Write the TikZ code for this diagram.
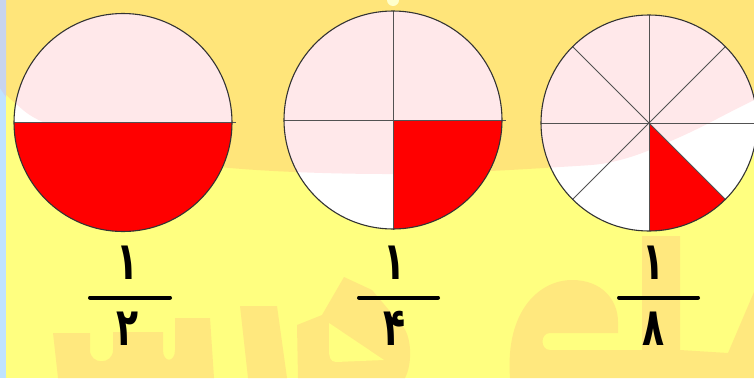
\documentclass[tikz,border=0pt]{standalone}
\usepackage{graphicx}
\usepackage{fontspec}
\newfontfamily\fa[Script=Arabic]{DejaVu Sans}
\usetikzlibrary{calc}
\newcommand{\dg}[1]{\scalebox{0.82}[1.2]{\fa\bfseries\fontsize{44}{44}\selectfont #1}}
\begin{document}
\begin{tikzpicture}[x=1pt,y=-1pt]
\definecolor{yel}{HTML}{FFFF80}
\definecolor{org}{HTML}{FFE57A}
\definecolor{wm}{HTML}{FFE87E}
\definecolor{pinkf}{HTML}{FFE8EA}
\definecolor{bluestrip}{HTML}{BFE3FF}
\definecolor{graystrip}{HTML}{C8D4EE}
\definecolor{outl}{HTML}{333333}
\tikzset{
  rim/.style={draw=outl,line width=1.1pt},
  divline/.style={draw=outl!85!white,line width=0.9pt},
  fracbar/.style={line width=4pt,line cap=round},
  digit/.style={inner sep=0pt,anchor=base},
  wmark/.style={fill=wm}
}
\useasboundingbox (0,0) rectangle (754,378);
\clip (0,0) rectangle (754,378);
% background
\fill[yel] (0,0) rectangle (754,378);
\fill[org] (0,0) -- plot[smooth,tension=0.6] coordinates {(0,88) (15,103) (43,122) (120,150) (230,168) (395,174) (560,167) (620,160) (680,137) (740,107) (754,100)} -- (754,0) -- cycle;
\fill[yel!40!white] (393,0) circle (6);
% watermark shapes
\fill[wmark] (53,333) -- (90,333) -- (90,350) .. controls (90,365) and (113,365) .. (113,350) -- (113,332) -- (163,332) -- (163,350) .. controls (163,363) and (175,363) .. (175,350) -- (175,318) -- (210,318) -- (214,378) -- (58,378) -- cycle;
\fill[wmark] (240,306) -- (277,306) -- (287,378) -- (248,378) -- cycle;
\fill[wmark] (297,325) -- (322,315) -- (344,277) -- (372,290) -- (404,328) .. controls (412,340) and (412,365) .. (405,378) -- (298,378) -- cycle;
\fill[yel] (329,323) -- (384,360) -- (336,362) .. controls (330,362) and (329,356) .. (329,350) -- cycle;
\fill[wmark] (510,378) .. controls (505,310) and (540,280) .. (572,280) .. controls (602,280) and (618,300) .. (618,322) -- (618,333) -- (550,333) .. controls (540,333) and (540,350) .. (550,350) -- (642,350) -- (642,378) -- cycle;
\fill[wmark] (642,236) -- (680,236) -- (680,350) -- (728,353) -- (754,292) -- (754,378) -- (642,378) -- cycle;
% left strip
\fill[bluestrip] (0,0) rectangle (6,378);
\fill[graystrip] (0,0) -- (0,88) -- (6,97) -- (6,0) -- cycle;
% circle 1
\coordinate (c1) at (123,122.5);
\fill[white] (c1) circle (109);
\begin{scope}
  \clip (c1) circle (109);
  \fill[pinkf] (0,0) -- plot[smooth,tension=0.6] coordinates {(0,88) (15,103) (43,122) (120,150) (230,168) (395,174) (560,167) (620,160) (680,137) (740,107) (754,100)} -- (754,0) -- cycle;
\end{scope}
\fill[red] ($(c1)+(109,0)$) arc[start angle=0,end angle=180,radius=109] -- cycle;
\draw[divline] ($(c1)+(-109,0)$) -- ($(c1)+(113,0)$);
\draw[rim] (c1) circle (109);
% circle 2
\coordinate (c2) at (393,120);
\fill[white] (c2) circle (109);
\begin{scope}
  \clip (c2) circle (109);
  \fill[pinkf] (0,0) -- plot[smooth,tension=0.6] coordinates {(0,88) (15,103) (43,122) (120,150) (230,168) (395,174) (560,167) (620,160) (680,137) (740,107) (754,100)} -- (754,0) -- cycle;
\end{scope}
\fill[red] (c2) -- ($(c2)+(109,0)$) arc[start angle=0,end angle=90,radius=109] -- cycle;
\draw[divline] ($(c2)+(-109,0)$) -- ($(c2)+(113,0)$);
\draw[divline] ($(c2)+(0,-109)$) -- ($(c2)+(0,110)$);
\draw[rim] (c2) circle (109);
% circle 3
\coordinate (c3) at (649,123);
\fill[white] (c3) circle (108);
\begin{scope}
  \clip (c3) circle (108);
  \fill[pinkf] (0,0) -- plot[smooth,tension=0.6] coordinates {(0,88) (15,103) (43,122) (120,150) (230,168) (395,174) (560,167) (620,160) (680,137) (740,107) (754,100)} -- (754,0) -- cycle;
\end{scope}
\fill[red] (c3) -- ($(c3)+(45:108)$) arc[start angle=45,end angle=90,radius=108] -- cycle;
\foreach \a in {0,45,90,135}{
  \draw[divline] ($(c3)+(\a:108)$) -- ($(c3)+(\a+180:108)$);
}
\draw[rim] (c3) circle (108);
% fractions
\node[digit] (n1) at (128,279) {\dg{۱}};
\draw[fracbar] (90,297.5) -- (170,297.5);
\node[digit] (d1) at (128,345) {\dg{۲}};
\node[digit] (n2) at (395,279) {\dg{۱}};
\draw[fracbar] (359,297.5) -- (438,297.5);
\node[digit] (d2) at (395,345) {\dg{۴}};
\node[digit] (n3) at (654,279) {\dg{۱}};
\draw[fracbar] (619,297.5) -- (698,297.5);
\node[digit] (d3) at (654,345) {\dg{۸}};
\end{tikzpicture}
\end{document}
